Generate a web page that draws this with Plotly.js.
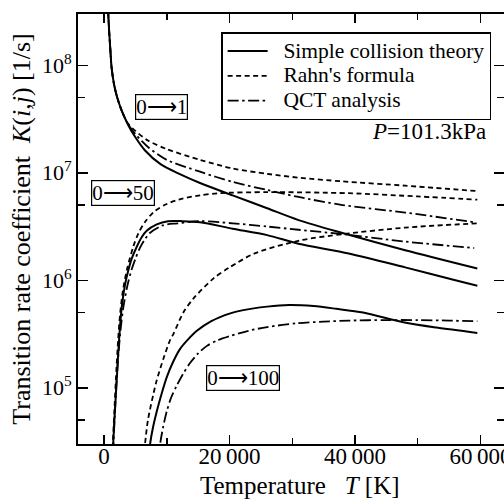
<!DOCTYPE html>
<html>
<head>
<meta charset="utf-8">
<script src="https://cdn.plot.ly/plotly-3.0.1.min.js"></script>
<style>html,body{margin:0;padding:0;background:#fff;}#chart{width:504px;height:502px;}</style>
</head>
<body>
<div id="chart"></div>
<script>
// ---- Data (T in K, values as log10 K(i,j) [1/s]) ----
// transition 0 -> 1
const simple01_T   = [600, 800, 1000, 1200, 1600, 2100, 2800, 3800, 5000, 6500, 9000, 12000, 15300, 20500, 26000, 31000, 38000, 48000, 59500];
const simple01_log = [8.56, 8.33, 8.15, 7.98, 7.82, 7.70, 7.58, 7.45, 7.33, 7.21, 7.08, 6.99, 6.905, 6.79, 6.67, 6.56, 6.44, 6.28, 6.11];
const rahn01_T     = [600, 800, 1000, 1200, 1600, 2100, 2800, 3800, 5000, 7000, 10000, 15300, 20500, 26000, 31000, 38000, 48000, 59500];
const rahn01_log   = [8.56, 8.33, 8.15, 7.98, 7.82, 7.70, 7.58, 7.46, 7.39, 7.30, 7.22, 7.12, 7.04, 6.99, 6.955, 6.92, 6.88, 6.83];
const qct01_T      = [600, 800, 1000, 1200, 1600, 2100, 2800, 3800, 5000, 7000, 10000, 15300, 20500, 26000, 31000, 38000, 48000, 59000];
const qct01_log    = [8.56, 8.33, 8.15, 7.98, 7.82, 7.70, 7.58, 7.455, 7.36, 7.24, 7.12, 7.01, 6.915, 6.84, 6.775, 6.70, 6.63, 6.54];
// transition 0 -> 50
const simple50_T   = [1300, 1450, 1750, 2020, 2400, 2820, 3350, 3900, 4400, 5200, 6000, 6800, 8400, 10200, 12500, 15300, 20500, 26000, 31000, 39000, 48000, 56000, 59500];
const simple50_log = [4.2, 4.47, 4.80, 5.07, 5.45, 5.75, 5.96, 6.10, 6.20, 6.31, 6.40, 6.46, 6.52, 6.55, 6.55, 6.54, 6.48, 6.42, 6.34, 6.25, 6.12, 6.00, 5.95];
const rahn50_T     = [1250, 1400, 1700, 1950, 2250, 2550, 3000, 3650, 4700, 5500, 6500, 8000, 10000, 12500, 15300, 18200, 26000, 39000, 50000, 59500];
const rahn50_log   = [4.2, 4.47, 4.85, 5.15, 5.45, 5.68, 5.90, 6.10, 6.32, 6.44, 6.54, 6.64, 6.71, 6.76, 6.79, 6.81, 6.82, 6.81, 6.78, 6.75];
const qct50_T      = [1350, 1500, 1800, 2150, 2600, 3080, 3800, 4400, 5000, 5700, 6500, 7300, 9300, 11700, 15300, 20500, 26000, 31000, 38000, 48000, 59000];
const qct50_log    = [4.2, 4.47, 4.85, 5.20, 5.52, 5.75, 5.97, 6.10, 6.20, 6.30, 6.38, 6.44, 6.51, 6.53, 6.55, 6.53, 6.50, 6.47, 6.43, 6.36, 6.30];
// transition 0 -> 100
const simple100_T   = [7100, 7330, 7800, 8400, 9200, 10000, 11000, 12100, 13400, 14800, 17100, 20000, 22000, 26000, 29500, 33400, 37000, 41300, 47700, 53000, 59500];
const simple100_log = [4.30, 4.47, 4.63, 4.78, 4.95, 5.10, 5.24, 5.36, 5.45, 5.53, 5.62, 5.69, 5.72, 5.755, 5.77, 5.76, 5.735, 5.70, 5.61, 5.56, 5.51];
const rahn100_T     = [6300, 6540, 7000, 7860, 8400, 9460, 10500, 11050, 12640, 14240, 17500, 20000, 24000, 31200, 38100, 48000, 59500];
const rahn100_log   = [4.33, 4.48, 4.70, 4.94, 5.07, 5.27, 5.44, 5.50, 5.70, 5.83, 6.02, 6.12, 6.25, 6.37, 6.43, 6.49, 6.53];
const qct100_T      = [8700, 8930, 9400, 9990, 10700, 11580, 12600, 13710, 15000, 16400, 18000, 20000, 23000, 26000, 30700, 35000, 39000, 45000, 50000, 55000, 59500];
const qct100_log    = [4.30, 4.47, 4.63, 4.78, 4.91, 5.02, 5.13, 5.23, 5.32, 5.39, 5.44, 5.48, 5.53, 5.565, 5.60, 5.615, 5.625, 5.63, 5.63, 5.625, 5.62];

// legend names and labels
const seriesNames = ["Simple collision theory", "Rahn's formula", "QCT analysis"];
const transitionLabels = ["0\u27F61", "0\u27F650", "0\u27F6100"];
const xTickVals = [0, 20000, 40000, 60000];
const xTickText = ["0", "20\u2009000", "40\u2009000", "60\u2009000"];
const xMinorVals = [10000, 30000, 50000];
const yTickVals = [1e5, 1e6, 1e7, 1e8];
const yTickText = ["10<sup>5</sup>", "10<sup>6</sup>", "10<sup>7</sup>", "10<sup>8</sup>"];
const yMinorVals = [5e4, 5e5, 5e6, 5e7];

const toK = arr => arr.map(v => Math.pow(10, v));
const styles = [
  {dash: 'solid', width: 2},
  {dash: '5px,3.5px', width: 1.8},
  {dash: '11px,3.5px,2.5px,3.5px', width: 1.8}
];
function mk(T, L, s, show) {
  return {
    x: T, y: toK(L), type: 'scatter', mode: 'lines',
    name: '<span style="font-size:21.5px">\u2002' + seriesNames[s] + '</span>',
    legendgroup: 'g' + s, showlegend: show,
    line: {color: 'black', width: styles[s].width, dash: styles[s].dash, shape: 'spline', smoothing: 0.8},
    hoverinfo: 'skip'
  };
}
const data = [
  mk(simple01_T, simple01_log, 0, true),
  mk(rahn01_T, rahn01_log, 1, true),
  mk(qct01_T, qct01_log, 2, true),
  mk(simple50_T, simple50_log, 0, false),
  mk(rahn50_T, rahn50_log, 1, false),
  mk(qct50_T, qct50_log, 2, false),
  mk(simple100_T, simple100_log, 0, false),
  mk(rahn100_T, rahn100_log, 1, false),
  mk(qct100_T, qct100_log, 2, false)
];

const FONT = 'Liberation Serif, Times New Roman, serif';
function boxAnn(text, x, y) {
  return {text: text, xref: 'paper', yref: 'paper', x: x, y: y, xanchor: 'center', yanchor: 'middle',
    showarrow: false, bordercolor: 'black', borderwidth: 1.2, borderpad: 0, bgcolor: 'white',
    font: {family: FONT, size: 21, color: 'black'}};
}
const layout = {
  width: 504, height: 502,
  margin: {l: 78, r: 0, t: 14, b: 58, pad: 0},
  paper_bgcolor: 'white', plot_bgcolor: 'white',
  font: {family: FONT, size: 22, color: 'black'},
  showlegend: true,
  legend: {x: 0.336, y: 0.958, xanchor: 'left', yanchor: 'top', bordercolor: 'black', borderwidth: 1.5,
    bgcolor: 'white', font: {family: FONT, size: 16.8, color: 'black'}, tracegroupgap: 0, itemwidth: 40},
  xaxis: {
    range: [-4150, 63750], tickmode: 'array', tickvals: xTickVals, ticktext: xTickText,
    ticks: 'inside', ticklen: 9, tickwidth: 1.5, tickcolor: 'black', mirror: 'ticks',
    showline: true, linewidth: 2, linecolor: 'black', showgrid: false, zeroline: false,
    minor: {tickvals: xMinorVals, ticks: 'inside', ticklen: 6, tickwidth: 1.5, tickcolor: 'black', showgrid: false},
    tickfont: {family: FONT, size: 23, color: 'black'},
    ticklabeloverflow: 'allow', ticklabelstandoff: -10
  },
  yaxis: {
    type: 'log', range: [Math.log10(3e4), Math.log10(3e8)], tickmode: 'array', tickvals: yTickVals, ticktext: yTickText,
    ticks: 'inside', ticklen: 10, tickwidth: 1.5, tickcolor: 'black', mirror: 'ticks',
    showline: true, linewidth: 2, linecolor: 'black', showgrid: false, zeroline: false,
    minor: {tickvals: yMinorVals, ticks: 'inside', ticklen: 7, tickwidth: 1.5, tickcolor: 'black', showgrid: false},
    tickfont: {family: FONT, size: 22, color: 'black'},
    title: {text: 'Transition rate coefficient  <i>K</i>(<i>i</i>,<i>j</i>) [1/s]', font: {family: FONT, size: 26, color: 'black'}, standoff: 4}
  },
  annotations: [
    boxAnn(transitionLabels[0], 0.196, 0.784),
    boxAnn(transitionLabels[1], 0.106, 0.584),
    boxAnn(transitionLabels[2], 0.387, 0.153),
    {text: '<i>P</i>=101.3kPa', xref: 'paper', yref: 'paper', x: 0.962, y: 0.726, xanchor: 'right', yanchor: 'middle',
     showarrow: false, font: {family: FONT, size: 23, color: 'black'}},
    {text: 'Temperature\u2002 <i>T</i> [K]', xref: 'paper', yref: 'paper', x: 0.521, y: -0.097, xanchor: 'center', yanchor: 'middle',
     showarrow: false, font: {family: FONT, size: 25, color: 'black'}}
  ]
};
Plotly.newPlot('chart', data, layout, {staticPlot: true, displayModeBar: false});
</script>
</body>
</html>
